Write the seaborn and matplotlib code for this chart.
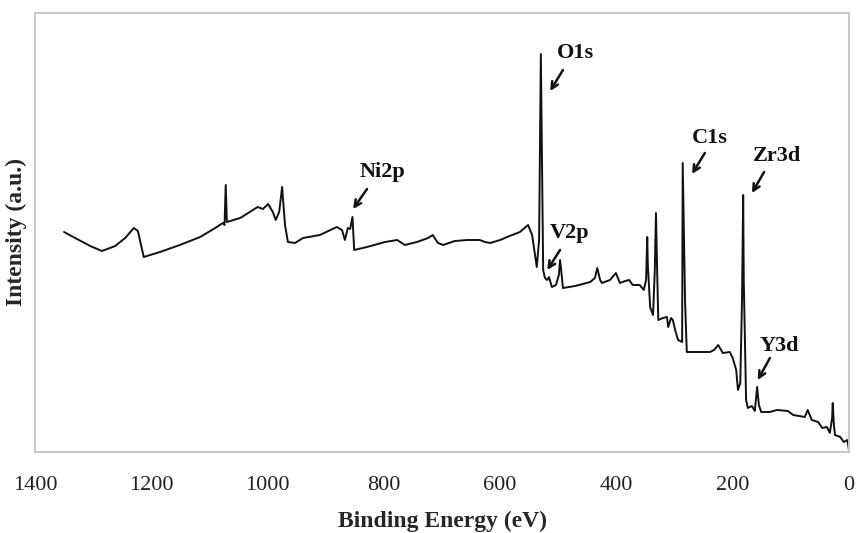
import matplotlib
matplotlib.use("Agg")
import matplotlib.pyplot as plt
import seaborn as sns
import pandas as pd

# Binding energy (eV) and intensity (a.u.)
binding_energy = [1350, 1331, 1305, 1285, 1262, 1245, 1230, 1223, 1213, 1185, 1151, 1116, 1090, 1077,
                  1074, 1072, 1070, 1047, 1017, 1008, 999, 991, 986, 980, 975, 970, 965, 953, 939,
                  910, 881, 872, 867, 862, 858, 854, 851, 829, 798, 777, 764, 743, 724, 716, 707,
                  698, 678, 657, 635, 626, 617, 600, 588, 566, 552, 545, 540, 537, 533, 530, 526,
                  523, 519, 516, 511, 504, 499, 497, 495, 492, 471, 445, 437, 433, 428, 425, 411,
                  401, 394, 385, 378, 372, 360, 353, 349, 347, 346, 342, 337, 334, 332, 330, 328,
                  320, 313, 311, 306, 303, 299, 294, 287, 286, 282, 279, 256, 239, 232, 225, 220,
                  217, 205, 200, 194, 191, 187, 184, 182, 181, 177, 174, 167, 162, 158, 155, 151,
                  136, 124, 105, 96, 76, 71, 64, 53, 46, 38, 33, 29, 28, 26, 24, 15, 9, 3, 0]
intensity = [220, 214, 206, 201, 206, 214, 224, 221, 195, 200, 207, 215, 224, 229,
             227, 267, 230, 234, 245, 243, 248, 240, 232, 240, 265, 227, 210, 209, 214,
             217, 225, 222, 212, 224, 223, 235, 202, 205, 210, 212, 207, 210, 214, 217, 209,
             207, 211, 212, 212, 210, 209, 212, 215, 220, 227, 217, 197, 185, 212, 398, 182,
             174, 172, 175, 165, 167, 177, 192, 182, 164, 166, 170, 174, 184, 172, 169, 172,
             179, 169, 171, 172, 167, 167, 162, 172, 215, 187, 145, 137, 182, 239, 182, 132,
             134, 135, 125, 134, 132, 122, 112, 110, 289, 152, 100, 100, 100, 102, 107, 102,
             99, 100, 94, 82, 62, 69, 152, 257, 172, 52, 44, 46, 41, 65, 47, 40,
             40, 42, 41, 37, 35, 42, 32, 30, 24, 25, 19, 34, 49, 27, 17, 15, 10, 12, 2]

peak_labels = ["O1s", "Ni2p", "V2p", "C1s", "Zr3d", "Y3d"]
label_be = [470, 803, 480, 239, 124, 119]
label_int = [399, 280, 219, 314, 296, 106]
arrow_tail_be = [492, 829, 497, 248, 146, 136]
arrow_tail_int = [382, 263, 202, 299, 280, 94]
arrow_tip_be = [514, 853, 519, 270, 167, 157]
arrow_tip_int = [361, 243, 182, 278, 259, 72]

x_ticks = [1400, 1200, 1000, 800, 600, 400, 200, 0]

df = pd.DataFrame({"Binding Energy (eV)": binding_energy, "Intensity (a.u.)": intensity})

sns.set_style("white")
plt.rcParams["font.family"] = ["Liberation Serif", "DejaVu Serif"]

fig = plt.figure(figsize=(8.56, 5.33), dpi=100)
ax = fig.add_axes([35 / 856, 81 / 533, 814 / 856, 439 / 533])

sns.lineplot(data=df, x="Binding Energy (eV)", y="Intensity (a.u.)", ax=ax,
             color="#111111", linewidth=1.4, estimator=None, sort=False)

ax.set_xlim(1400, 0)
ax.set_ylim(0, 439)
ax.set_xticks(x_ticks)
ax.set_xticklabels([str(t) for t in x_ticks], fontsize=16, color="#222222")
ax.set_yticks([])
ax.tick_params(axis="x", direction="out", length=5, width=1.2, color="#b8b8b8", pad=12)

for s in ax.spines.values():
    s.set_color("#c8c8c8")
    s.set_linewidth(1.5)

ax.set_xlabel("Binding Energy (eV)", fontsize=17, fontweight="bold", labelpad=12)
ax.set_ylabel("Intensity (a.u.)", fontsize=17, fontweight="bold", labelpad=6)

for lab, lx, ly, tx, ty, hx, hy in zip(peak_labels, label_be, label_int, arrow_tail_be,
                                        arrow_tail_int, arrow_tip_be, arrow_tip_int):
    ax.text(lx, ly, lab, fontsize=16, fontweight="bold", ha="center", va="center", color="#111111")
    ax.annotate("", xy=(hx, hy), xytext=(tx, ty),
                arrowprops=dict(arrowstyle="->", lw=1.8, color="#111111", mutation_scale=12,
                                shrinkA=0, shrinkB=0))

fig.savefig("out.png", dpi=100)
